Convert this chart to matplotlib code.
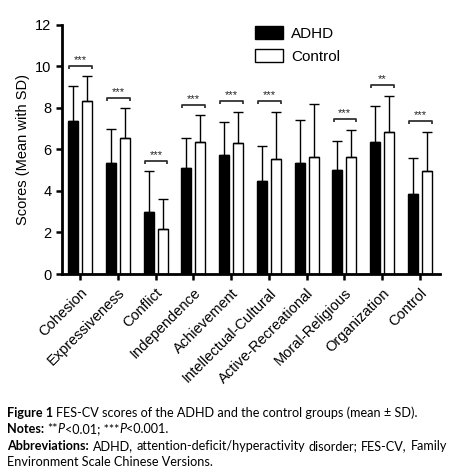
import matplotlib
matplotlib.use("Agg")
import matplotlib.pyplot as plt
import numpy as np

categories = ["Cohesion", "Expressiveness", "Conflict", "Independence", "Achievement",
              "Intellectual-Cultural", "Active-Recreational", "Moral-Religious",
              "Organization", "Control"]
adhd_mean = [7.35, 5.33, 2.97, 5.09, 5.71, 4.46, 5.33, 4.99, 6.34, 3.87]
adhd_sd = [1.68, 1.66, 1.97, 1.48, 1.63, 1.72, 2.10, 1.43, 1.73, 1.73]
control_mean = [8.31, 6.53, 2.19, 6.37, 6.32, 5.55, 5.65, 5.65, 6.85, 4.98]
control_sd = [1.21, 1.44, 1.44, 1.27, 1.50, 2.27, 2.55, 1.30, 1.74, 1.87]
significance = ["***", "***", "***", "***", "***", "***", "", "***", "**", "***"]
yticks = [0, 2, 4, 6, 8, 10, 12]

plt.rcParams['font.family'] = ['Liberation Sans', 'DejaVu Sans']

W, H = 453, 473
fig = plt.figure(figsize=(W / 100, H / 100), dpi=100)
ax = fig.add_axes([62 / W, 1 - 274 / H, (440 - 62) / W, (274 - 24.7) / H])

x = np.arange(len(categories))
off, bw = 0.185, 0.265
ax.bar(x - off, adhd_mean, bw, color='black', edgecolor='black', linewidth=1.0,
       label='ADHD', zorder=2)
ax.bar(x + off, control_mean, bw, color='white', edgecolor='black', linewidth=1.0,
       label='Control', zorder=2)
z = np.zeros(len(categories))
ax.errorbar(x - off, adhd_mean, yerr=[z, adhd_sd], fmt='none', ecolor='black',
            elinewidth=1.0, capsize=3.6, capthick=1.0, zorder=3)
ax.errorbar(x + off, control_mean, yerr=[z, control_sd], fmt='none', ecolor='black',
            elinewidth=1.0, capsize=3.6, capthick=1.0, zorder=3)

# significance brackets
for i, s in enumerate(significance):
    if not s:
        continue
    top = max(adhd_mean[i] + adhd_sd[i], control_mean[i] + control_sd[i]) + 0.5
    x0, x1 = i - 0.29, i + 0.31
    ax.plot([x0, x0, x1, x1], [top - 0.15, top, top, top - 0.15], color='#333333',
            lw=1.3, zorder=3, solid_capstyle='butt')
    ax.text((x0 + x1) / 2, top + 0.04, s, ha='center', va='bottom', fontsize=8,
            color='#222222')

ax.set_xlim(-0.48, len(categories) - 0.47)
ax.set_ylim(0, 12)
ax.set_yticks(yticks)
ax.set_xticks(x)
ax.set_xticklabels(categories, rotation=45, ha='right', rotation_mode='anchor', fontsize=10.5)
ax.tick_params(axis='y', labelsize=10.5, width=1.8, length=4.5, direction='out', pad=3)
ax.tick_params(axis='x', width=1.8, length=4.5, direction='out', pad=4)
for sp in ['top', 'right']:
    ax.spines[sp].set_visible(False)
for sp in ['left', 'bottom']:
    ax.spines[sp].set_linewidth(2.0)
ax.set_ylabel('Scores (Mean with SD)', fontsize=10.5, labelpad=4)

ax.legend(loc='upper left', bbox_to_anchor=(255 / W, 1 - 26 / H),
          bbox_transform=fig.transFigure, frameon=False, fontsize=11,
          handlelength=1.8, handleheight=0.9, borderpad=0, borderaxespad=0,
          labelspacing=0.55, handletextpad=0.55)

# caption
fig.canvas.draw()
renderer = fig.canvas.get_renderer()
cap_font = 'Lato'
cs = 9.1


def text_width(txt, kw):
    t = fig.text(0, 0, txt, fontsize=cs, family=cap_font, **kw)
    wd = t.get_window_extent(renderer).width
    t.remove()
    return wd


space_w = text_width("a a", {}) - text_width("aa", {})


def run_line(y_px, runs, x_px=7):
    xx = x_px
    for txt, kw in runs:
        lead = len(txt) - len(txt.lstrip(' '))
        xx += lead * space_w
        body = txt.lstrip(' ')
        t = fig.text(xx / W, 1 - y_px / H, body, fontsize=cs, family=cap_font,
                     va='baseline', ha='left', **kw)
        xx += t.get_window_extent(renderer).width
    return xx


run_line(417, [("Figure 1", dict(weight='bold')),
               (" FES-CV scores of the ADHD and the control groups (mean \u00b1 SD).", {})])
run_line(433, [("Notes:", dict(weight='bold')), (" **", {}), ("P", dict(style='italic')),
               ("<0.01; ***", {}), ("P", dict(style='italic')), ("<0.001.", {})])

words = [("Abbreviations:", dict(weight='bold')), ("ADHD,", {}),
         ("attention-deficit/hyperactivity", {}), ("disorder;", {}), ("FES-CV,", {}),
         ("Family", {})]
widths = [text_width(w_, kw) for w_, kw in words]
x0p, x1p = 7, 447
gap = (x1p - x0p - sum(widths)) / (len(words) - 1)
xx = x0p
for (w_, kw), wd in zip(words, widths):
    fig.text(xx / W, 1 - 450 / H, w_, fontsize=cs, family=cap_font, va='baseline', **kw)
    xx += wd + gap
run_line(466, [("Environment Scale Chinese Versions.", {})])

fig.savefig('out.png', dpi=100)
